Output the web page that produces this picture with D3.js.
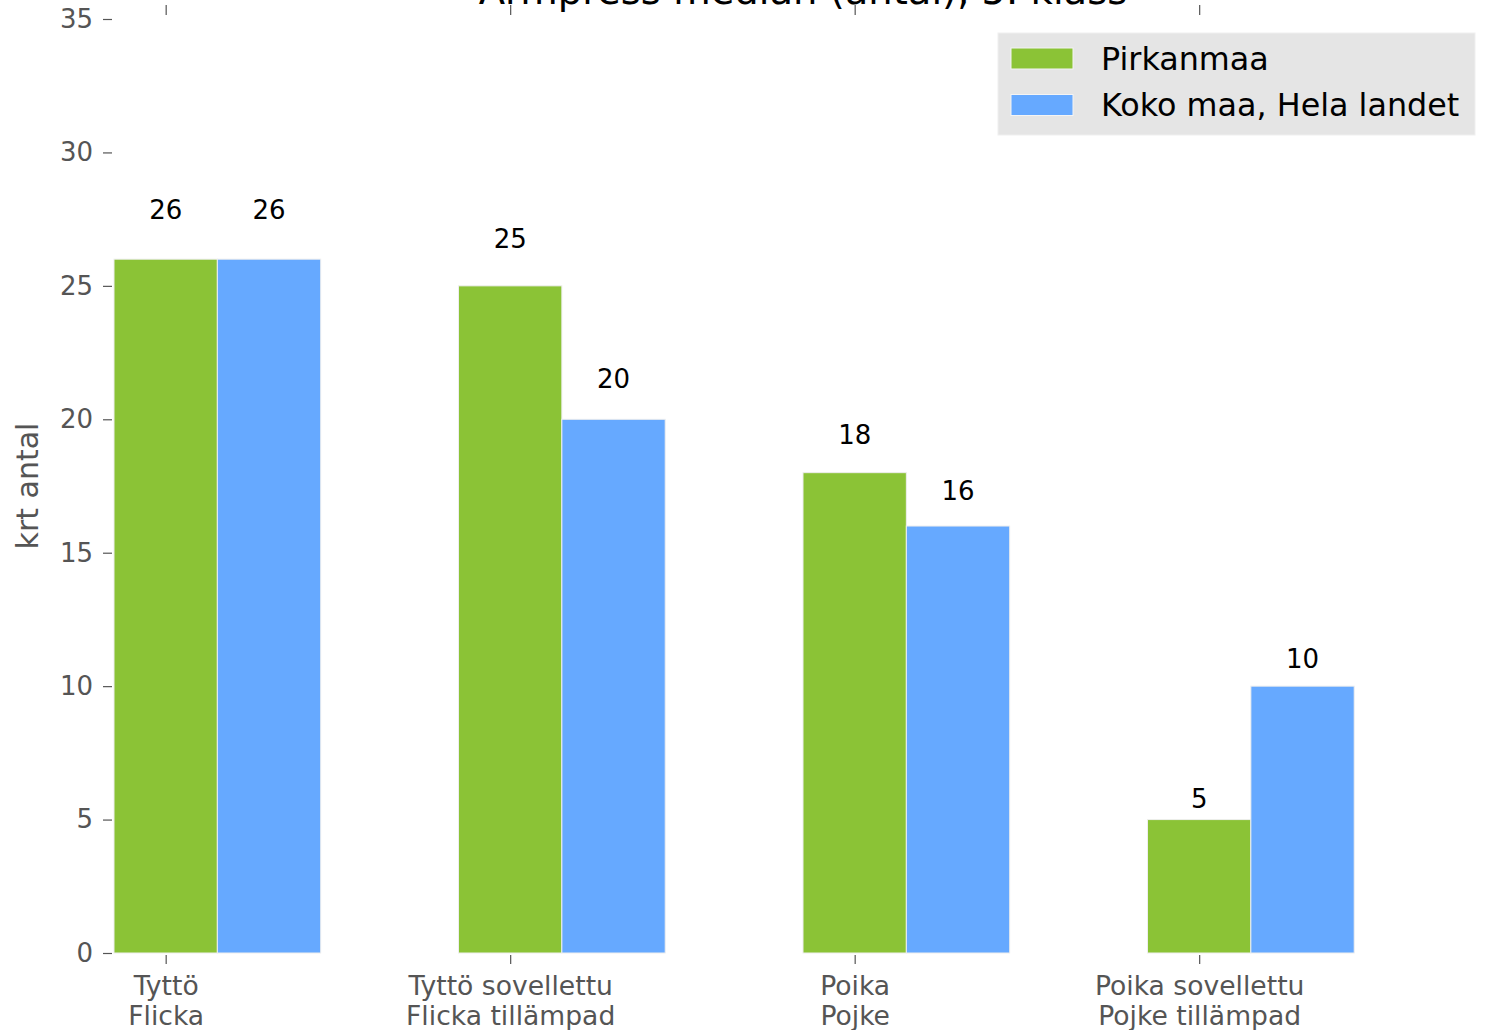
<!DOCTYPE html>
<html>
<head>
<meta charset="utf-8">
<script src="https://cdn.jsdelivr.net/npm/d3@7"></script>
<style>
  html, body { margin: 0; padding: 0; background: #fff; }
  svg { display: block; font-family: "DejaVu Sans", sans-serif; }
</style>
</head>
<body>
<svg id="chart" width="1486" height="1030"></svg>
<script>
const title = "Armpress median (antal), 5. klass";
const yLabel = "krt antal";
const categoriesLine1 = ["Tyttö", "Tyttö sovellettu", "Poika", "Poika sovellettu"];
const categoriesLine2 = ["Flicka", "Flicka tillämpad", "Pojke", "Pojke tillämpad"];
const seriesNames = ["Pirkanmaa", "Koko maa, Hela landet"];
const pirkanmaa = [26, 25, 18, 5];
const kokoMaa = [26, 20, 16, 10];
const yTicks = [0, 5, 10, 15, 20, 25, 30, 35];
const colors = ["#8BC336", "#66A9FF"];

const svg = d3.select("#chart");
const barW = 0.3;
const x = d3.scaleLinear().domain([-0.15, 3.85]).range([114, 1492]);
const y = d3.scaleLinear().domain([0, 35]).range([953, 19]);

const series = [pirkanmaa, kokoMaa];

// bars
series.forEach((vals, s) => {
  svg.append("g").selectAll("rect").data(vals).join("rect")
    .attr("x", (d, i) => x(i - barW / 2 + s * barW))
    .attr("width", x(barW) - x(0))
    .attr("y", d => y(d))
    .attr("height", d => y(0) - y(d))
    .attr("fill", colors[s])
    .attr("stroke", "#eeeeee")
    .attr("stroke-width", 1);
  svg.append("g").selectAll("text").data(vals).join("text")
    .attr("x", (d, i) => x(i + s * barW))
    .attr("y", d => y(d * 1.05) - 5)
    .attr("text-anchor", "middle")
    .attr("font-size", 26)
    .attr("fill", "#000")
    .text(d => d);
});

// y axis
const yAxis = svg.append("g").attr("transform", "translate(112,0)")
  .call(d3.axisLeft(y).tickValues(yTicks).tickSize(9).tickPadding(10));
yAxis.select(".domain").remove();
yAxis.selectAll(".tick line").attr("stroke", "#555").attr("stroke-width", 1.2);
yAxis.selectAll(".tick text").attr("fill", "#555").attr("font-size", 26)
  .attr("font-family", "DejaVu Sans");

// bottom axis
const xAxis = svg.append("g").attr("transform", "translate(0,955)")
  .call(d3.axisBottom(x).tickValues([0, 1, 2, 3]).tickSize(9).tickFormat(""));
xAxis.select(".domain").remove();
xAxis.selectAll(".tick line").attr("stroke", "#555").attr("stroke-width", 1.2);
xAxis.selectAll(".tick").each(function(d) {
  const t = d3.select(this).append("text")
    .attr("fill", "#555").attr("font-size", 26.6).attr("text-anchor", "middle")
    .attr("font-family", "DejaVu Sans");
  t.append("tspan").attr("x", 0).attr("y", 40).text(categoriesLine1[d]);
  t.append("tspan").attr("x", 0).attr("y", 70).text(categoriesLine2[d]);
});

// top axis
const xTop = svg.append("g").attr("transform", "translate(0,15)")
  .call(d3.axisTop(x).tickValues([0, 1, 2, 3]).tickSize(10).tickFormat(""));
xTop.select(".domain").remove();
xTop.selectAll(".tick line").attr("stroke", "#555").attr("stroke-width", 1.2);

// title
svg.append("text").attr("x", 803).attr("y", 4).attr("text-anchor", "middle")
  .attr("font-size", 38.5).attr("fill", "#000").text(title);

// y label
svg.append("text").attr("transform", "translate(38,486) rotate(-90)")
  .attr("text-anchor", "middle").attr("font-size", 30).attr("fill", "#555")
  .text(yLabel);

// legend
const lg = svg.append("g");
lg.append("rect").attr("x", 998).attr("y", 33).attr("width", 477).attr("height", 102)
  .attr("fill", "#e5e5e5").attr("stroke", "#efefef");
seriesNames.forEach((name, i) => {
  lg.append("rect").attr("x", 1011).attr("y", 48 + i * 46.5).attr("width", 62).attr("height", 21)
    .attr("fill", colors[i]).attr("stroke", "#f4f4f4");
  lg.append("text").attr("x", 1101).attr("y", 70 + i * 46).attr("font-size", 31.8)
    .attr("fill", "#000").text(name);
});
</script>
</body>
</html>
